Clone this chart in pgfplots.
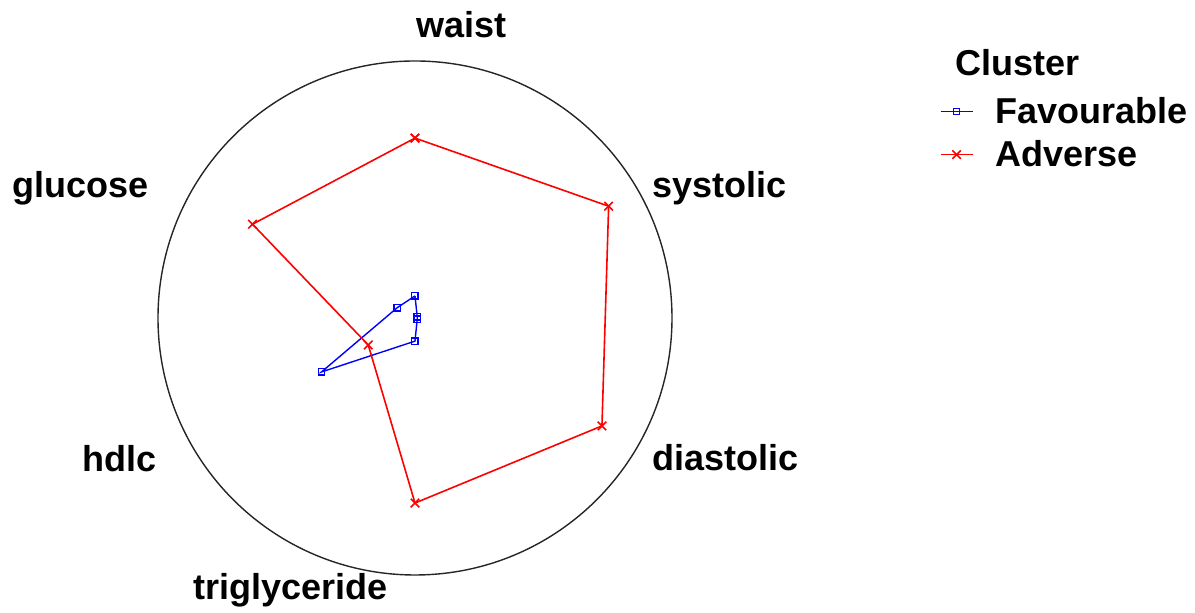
\documentclass[border=0pt]{standalone}
\usepackage{fontspec}
\setmainfont{Liberation Sans}
\usepackage{pgfplots}
\usepgfplotslibrary{polar}
\pgfplotsset{compat=1.18}
\begin{document}
\begin{tikzpicture}
\useasboundingbox (0,0) rectangle (597.5pt,306.5pt);
\begin{polaraxis}[
  at={(207.5pt,147.5pt)}, anchor=center,
  width=257pt, height=257pt, scale only axis,
  xmin=0, xmax=360, ymin=0, ymax=1,
  xtick=\empty, ytick=\empty, grid=none,
  axis line style={black!85, line width=0.7pt},
  y axis line style={draw=none},
  legend style={at={(axis description cs:1.521,0.93)}, anchor=north west,
    draw=none, fill=none, inner sep=0pt, outer sep=0pt,
    font=\fontsize{18}{21}\selectfont\bfseries,
    row sep=7pt, column sep=11pt,
    nodes={inner sep=0pt}},
  legend cell align=left,
  legend image code/.code={\draw[mark repeat=2,mark phase=2,#1] plot coordinates {(0pt,0pt)(8pt,0pt)(16pt,0pt)};},
]
\addplot[blue, line width=0.7pt, mark=square, mark size=1.6pt, mark options={solid}] coordinates {
  (90,0.086) (30,0.01) (330,0.01) (270,0.09) (210,0.42) (150,0.08) (90,0.086)};
\addlegendentry{Favourable}
\addplot[red, line width=0.8pt, mark=x, mark size=3pt] coordinates {
  (90,0.70) (30,0.87) (330,0.84) (270,0.72) (210,0.21) (150,0.73) (90,0.70)};
\addlegendentry{Adverse}
\end{polaraxis}
\begin{scope}[every node/.style={font=\fontsize{18}{21}\selectfont\bfseries, inner sep=0pt}]
\node[anchor=base west] at (208pt,287.5pt) {waist};
\node[anchor=base west] at (326pt,207.5pt) {systolic};
\node[anchor=base west] at (326pt,71pt) {diastolic};
\node[anchor=base west] at (96.5pt,6.5pt) {triglyceride};
\node[anchor=base west] at (41pt,70.5pt) {hdlc};
\node[anchor=base west] at (6pt,207.5pt) {glucose};
\node[anchor=base west] at (477.5pt,268.5pt) {Cluster};
\end{scope}
\end{tikzpicture}
\end{document}
